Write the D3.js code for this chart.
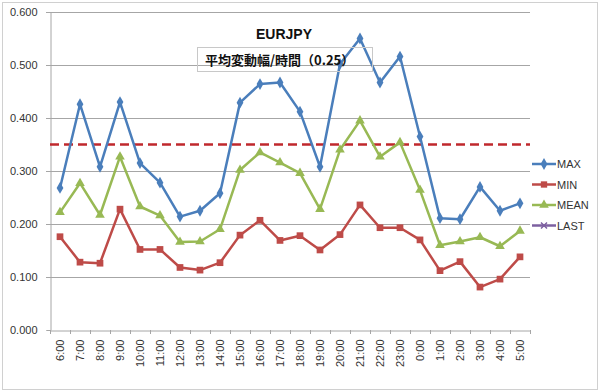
<!DOCTYPE html>
<html><head><meta charset="utf-8">
<script src="https://cdn.jsdelivr.net/npm/d3@7"></script>
<style>body{margin:0;background:#fff}svg{display:block}</style>
</head><body>
<svg id="c" width="600" height="392"></svg>
<script>
const categories = ["6:00","7:00","8:00","9:00","10:00","11:00","12:00","13:00","14:00","15:00","16:00","17:00","18:00","19:00","20:00","21:00","22:00","23:00","0:00","1:00","2:00","3:00","4:00","5:00"];
const maxValues  = [0.268,0.426,0.308,0.430,0.315,0.278,0.214,0.225,0.258,0.429,0.464,0.467,0.412,0.308,0.502,0.550,0.467,0.516,0.365,0.211,0.209,0.270,0.225,0.239];
const minValues  = [0.176,0.128,0.126,0.228,0.152,0.152,0.118,0.113,0.127,0.179,0.207,0.169,0.178,0.151,0.180,0.236,0.193,0.193,0.170,0.112,0.129,0.081,0.096,0.138];
const meanValues = [0.222,0.277,0.217,0.327,0.233,0.216,0.166,0.167,0.190,0.302,0.335,0.316,0.296,0.228,0.340,0.395,0.327,0.354,0.264,0.160,0.167,0.175,0.158,0.187];
const thresholdValue = [0.35];
const yTicks = [0,0.1,0.2,0.3,0.4,0.5,0.6];
const seriesNames = ["MAX","MIN","MEAN","LAST"];
const title = "EURJPY";
const subtitle = "平均変動幅/時間（0.25）";

const colors = {MAX:"#4a7ebb", MIN:"#be4b48", MEAN:"#98b954", LAST:"#7d60a0"};
const font = "'Liberation Sans', Arial, sans-serif";
const svg = d3.select("#c");

// outer border
svg.append("rect").attr("x",2.5).attr("y",2.5).attr("width",595).attr("height",387)
  .attr("fill","#fff").attr("stroke","#d0d0d0");

const L=50, R=530, T=12, B=330;
const x = d3.scaleBand().domain(categories).range([L,R]);
const y = d3.scaleLinear().domain([0,0.6]).range([B,T]);

// gridlines
svg.append("g").selectAll("line").data(yTicks.filter(d=>d>0)).join("line")
  .attr("x1",L-4).attr("x2",R).attr("y1",d=>Math.round(y(d))+0.5).attr("y2",d=>Math.round(y(d))+0.5)
  .attr("stroke","#a6a6a6").attr("stroke-width",1);

// y axis
const ya = svg.append("g").attr("transform",`translate(${L+0.5},0)`)
  .call(d3.axisLeft(y).tickValues(yTicks).tickFormat(d3.format(".3f")).tickSize(4).tickPadding(9));
ya.select(".domain").attr("stroke","#a6a6a6");
ya.selectAll(".tick line").attr("stroke","#a6a6a6");
ya.selectAll("text").attr("font-family",font).attr("font-size",11).attr("fill","#333");

// x axis
const xa = svg.append("g").attr("transform",`translate(0,${B+0.5})`)
  .call(d3.axisBottom(x).tickSize(0));
xa.select(".domain").attr("stroke","#a6a6a6");
xa.selectAll(".tick line").remove();
xa.selectAll("text").attr("font-family",font).attr("font-size",11).attr("fill","#333")
  .attr("transform","rotate(-90)").attr("text-anchor","end").attr("y",0).attr("x",-9)
  .attr("dy","0.35em");
// boundary ticks
svg.append("g").selectAll("line").data(d3.range(categories.length+1)).join("line")
  .attr("x1",i=>L+i*x.step()+0.5).attr("x2",i=>L+i*x.step()+0.5)
  .attr("y1",B).attr("y2",B+4).attr("stroke","#a6a6a6");

const cx = c => x(c)+x.bandwidth()/2;
const line = d3.line().x((d,i)=>cx(categories[i])).y(d=>y(d));

// threshold dashed line
svg.append("line").attr("x1",L).attr("x2",R)
  .attr("y1",y(thresholdValue[0])).attr("y2",y(thresholdValue[0]))
  .attr("stroke","#c0282d").attr("stroke-width",2.5).attr("stroke-dasharray","9,5");

const series = [
  {name:"MAX", values:maxValues, marker:d3.symbolDiamond, size:40},
  {name:"MIN", values:minValues, marker:d3.symbolSquare, size:45},
  {name:"MEAN", values:meanValues, marker:d3.symbolTriangle, size:40}
];
series.forEach(s=>{
  svg.append("path").datum(s.values).attr("d",line).attr("fill","none")
    .attr("stroke",colors[s.name]).attr("stroke-width",2.5).attr("stroke-linejoin","round");
  svg.append("g").selectAll("path").data(s.values).join("path")
    .attr("d",d3.symbol().type(s.marker).size(s.size))
    .attr("transform",(d,i)=>`translate(${cx(categories[i])},${y(d)})`)
    .attr("fill",colors[s.name]);
});

// legend
const lg = svg.append("g");
seriesNames.forEach((n,i)=>{
  const yy = 164 + i*20.5;
  lg.append("line").attr("x1",532).attr("x2",556).attr("y1",yy).attr("y2",yy)
    .attr("stroke",colors[n]).attr("stroke-width",2.5);
  const mk = n==="MAX"?d3.symbolDiamond:n==="MIN"?d3.symbolSquare:d3.symbolTriangle;
  if(n!=="LAST"){
    lg.append("path").attr("d",d3.symbol().type(mk).size(40))
      .attr("transform",`translate(544,${yy})`).attr("fill",colors[n]);
  } else {
    lg.append("path").attr("d","M-3,-3L3,3M-3,3L3,-3").attr("transform",`translate(544,${yy})`)
      .attr("stroke",colors[n]).attr("stroke-width",1.5);
  }
  lg.append("text").attr("x",557).attr("y",yy+4).text(n)
    .attr("font-family",font).attr("font-size",11).attr("fill","#333");
});

// title
svg.append("text").attr("x",284).attr("y",39).attr("text-anchor","middle").text(title)
  .attr("font-family",font).attr("font-size",14).attr("font-weight","bold").attr("fill","#111");
svg.append("rect").attr("x",197.5).attr("y",47.5).attr("width",175).attr("height",24)
  .attr("fill","none").attr("stroke","#c8c8c8");
svg.append("text").attr("x",205).attr("y",64.5).attr("text-anchor","start").text(subtitle)
  .attr("font-family","'Noto Sans CJK JP', sans-serif").attr("font-size",13).attr("font-weight","bold").attr("fill","#111");
</script>
</body></html>
